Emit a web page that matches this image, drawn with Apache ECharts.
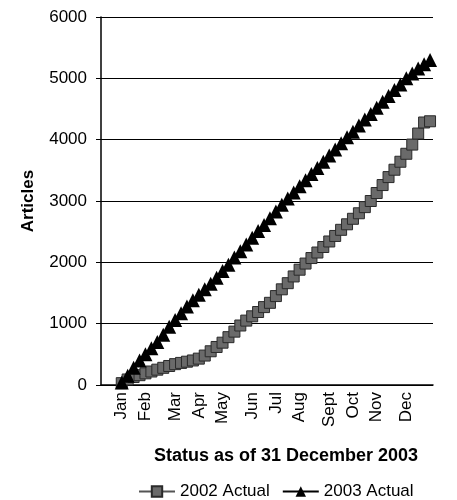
<!DOCTYPE html>
<html>
<head>
<meta charset="utf-8">
<script src="https://cdn.jsdelivr.net/npm/echarts@6/dist/echarts.min.js"></script>
<style>
  html, body { margin: 0; padding: 0; background: #fff; }
  #chart { width: 457px; height: 500px; }
</style>
</head>
<body>
<div id="chart"></div>
<script>
// weekly categories, month name on the first week of each month
const weekLabels = [
  '', '', '', 'Jan', '', '', '', 'Feb', '', '', '', '', 'Mar', '', '', '', 'Apr', '', '', '',
  'May', '', '', '', '', 'Jun', '', '', '', 'Jul', '', '', '', 'Aug', '', '', '', '', 'Sept', '',
  '', '', 'Oct', '', '', '', 'Nov', '', '', '', '', 'Dec', '', '', '', '',
];

const actual2002 = [
  null, null, null, 30, 90, 130, 160, 190, 220, 250, 280, 310, 340, 360, 380, 400, 430, 480, 550, 620,
  690, 780, 870, 970, 1050, 1120, 1190, 1270, 1340, 1450, 1560, 1660, 1770, 1880, 1980, 2070, 2160, 2250, 2340, 2430,
  2530, 2620, 2710, 2800, 2900, 3000, 3130, 3260, 3390, 3510, 3640, 3770, 3920, 4100, 4280, 4300,
];

const actual2003 = [
  null, null, null, 40, 150, 280, 400, 500, 600, 700, 820, 950, 1060, 1170, 1280, 1380, 1470, 1560, 1650, 1750,
  1860, 1960, 2080, 2180, 2290, 2400, 2510, 2610, 2720, 2830, 2940, 3040, 3140, 3240, 3340, 3440, 3540, 3640, 3740, 3840,
  3940, 4040, 4130, 4230, 4330, 4420, 4520, 4620, 4710, 4810, 4900, 5000, 5080, 5160, 5230, 5300,
];

const FONT = 'Liberation Sans, Arial, sans-serif';

const chart = echarts.init(document.getElementById('chart'));
chart.setOption({
  animation: false,
  backgroundColor: '#fff',
  textStyle: { fontFamily: FONT, color: '#000' },
  grid: { left: 101, right: 24, top: 17, bottom: 115 },
  title: {
    text: 'Status as of 31 December 2003',
    left: 281,
    top: 442,
    textAlign: 'center',
    textStyle: { fontFamily: FONT, fontSize: 18, fontWeight: 'bold', color: '#000' },
  },
  legend: {
    top: 478,
    left: 133,
    itemWidth: 36,
    itemHeight: 13,
    itemGap: 12,
    textStyle: { fontFamily: FONT, fontSize: 17, color: '#000' },
    data: ['2002 Actual', '2003 Actual'],
  },
  xAxis: {
    type: 'category',
    data: weekLabels,
    boundaryGap: true,
    axisLine: { show: true, lineStyle: { color: '#000', width: 1.5 } },
    axisTick: { show: false },
    axisLabel: {
      interval: 0,
      rotate: 90,
      margin: 7,
      fontFamily: FONT,
      fontSize: 17,
      color: '#000',
    },
    splitLine: { show: false },
  },
  yAxis: {
    type: 'value',
    min: 0,
    max: 6000,
    interval: 1000,
    name: 'Articles',
    nameLocation: 'middle',
    nameGap: 64,
    nameRotate: 90,
    nameTextStyle: { fontFamily: FONT, fontSize: 17, fontWeight: 'bold', color: '#000' },
    axisLine: { show: true, lineStyle: { color: '#000', width: 1.5 } },
    axisTick: { show: true, length: 5, lineStyle: { color: '#000' } },
    axisLabel: {
      margin: 14,
      fontFamily: FONT,
      fontSize: 17,
      color: '#000',
      formatter: (value) => String(value),
    },
    splitLine: { show: true, lineStyle: { color: '#000', width: 1.2 } },
  },
  series: [
    {
      name: '2002 Actual',
      type: 'line',
      data: actual2002,
      symbol: 'rect',
      symbolSize: 11,
      itemStyle: { color: '#6a6a6a', borderColor: '#2a2a2a', borderWidth: 1 },
      lineStyle: { color: '#555', width: 2 },
      z: 2,
    },
    {
      name: '2003 Actual',
      type: 'line',
      data: actual2003,
      symbol: 'triangle',
      symbolSize: 14,
      itemStyle: { color: '#000', borderColor: '#000', borderWidth: 0 },
      lineStyle: { color: '#000', width: 2 },
      z: 3,
    },
  ],
});
</script>
</body>
</html>
